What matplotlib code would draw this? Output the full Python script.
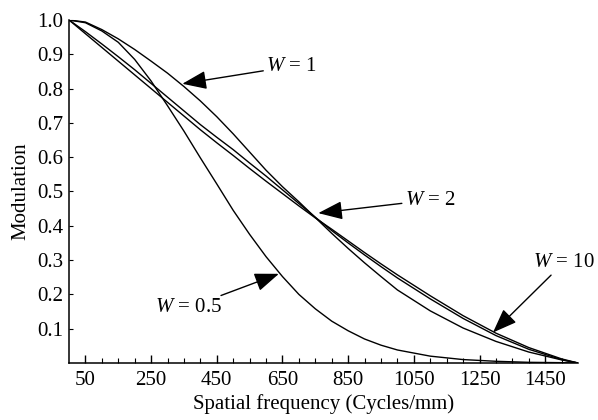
import numpy as np
import matplotlib
matplotlib.use('Agg')
import matplotlib.pyplot as plt
from matplotlib.ticker import FixedLocator

plt.rcParams['font.family'] = 'Liberation Serif'
plt.rcParams['mathtext.fontset'] = 'custom'
plt.rcParams['mathtext.rm'] = 'Liberation Serif'
plt.rcParams['mathtext.it'] = 'Liberation Serif:italic'
plt.rcParams['font.size'] = 15

#spatial frequency samples (cycles/mm)
freq = [0, 50, 100, 150, 200, 250, 300, 350, 400, 450, 500, 550, 600, 650, 700,
        750, 800, 850, 900, 950, 1000, 1100, 1200, 1300, 1400, 1500, 1550]

#modulation
mtf_w05 = [1.0, 0.992, 0.968, 0.935, 0.885, 0.822, 0.750, 0.676, 0.598, 0.522, 0.445,
           0.375, 0.310, 0.252, 0.200, 0.158, 0.122, 0.094, 0.070, 0.052, 0.038,
           0.020, 0.010, 0.005, 0.002, 0.001, 0.0]
mtf_w1 = [1.0, 0.994, 0.972, 0.945, 0.914, 0.880, 0.845, 0.806, 0.764, 0.718, 0.668,
          0.615, 0.562, 0.514, 0.470, 0.424, 0.378, 0.334, 0.292, 0.252, 0.213,
          0.152, 0.102, 0.063, 0.032, 0.009, 0.0]
mtf_w2 = [1.0, 0.966, 0.930, 0.893, 0.855, 0.815, 0.775, 0.735, 0.695, 0.658, 0.622,
          0.583, 0.545, 0.505, 0.465, 0.425, 0.386, 0.350, 0.315, 0.281, 0.248,
          0.187, 0.130, 0.080, 0.040, 0.010, 0.0]
mtf_w10 = [1.0, 0.960, 0.920, 0.880, 0.840, 0.800, 0.760, 0.720, 0.680, 0.642, 0.605,
           0.567, 0.530, 0.494, 0.458, 0.423, 0.390, 0.356, 0.322, 0.289, 0.257,
           0.196, 0.138, 0.087, 0.045, 0.012, 0.0]

labels = [r'$\mathit{W}$ = 1', r'$\mathit{W}$ = 2', r'$\mathit{W}$ = 10', r'$\mathit{W}$ = 0.5']

fig = plt.figure(figsize=(5.98, 4.2), dpi=100)
ax = fig.add_axes([0.1154, 0.1357, 0.8512, 0.8167])

for m in [mtf_w05, mtf_w1, mtf_w2, mtf_w10]:
    ax.plot(freq, m, color='black', lw=1.0)

ax.set_xlim(0, 1550)
ax.set_ylim(0, 1.0)
ax.spines['top'].set_visible(False)
ax.spines['right'].set_visible(False)
ax.spines['left'].set_linewidth(1.1)
ax.spines['bottom'].set_linewidth(1.1)

ax.xaxis.set_major_locator(FixedLocator(np.arange(50, 1500, 200)))
ax.xaxis.set_minor_locator(FixedLocator([f for f in range(50, 1550, 50) if (f - 50) % 200 != 0]))
ax.yaxis.set_major_locator(FixedLocator(np.arange(0.1, 1.01, 0.1)))
ax.set_yticklabels(['%.1f' % v for v in np.arange(0.1, 1.01, 0.1)])
ax.tick_params(axis='x', which='major', direction='in', length=6, width=1, pad=6)
ax.tick_params(axis='x', which='minor', direction='in', length=3.5, width=0.8)
ax.tick_params(axis='y', which='major', direction='in', length=3, width=0.8, pad=4)

ax.set_xlabel('Spatial frequency (Cycles/mm)', labelpad=3)
ax.set_ylabel('Modulation', labelpad=5)

arrow = dict(arrowstyle='-|>,head_length=1.0,head_width=0.38', color='black', lw=1.0,
             shrinkA=0, shrinkB=0)
ax.annotate(labels[0], xy=(345, 0.814), xytext=(600, 0.865), va='center', ha='left',
            arrowprops=arrow)
ax.annotate(labels[1], xy=(759, 0.437), xytext=(1022, 0.475), va='center', ha='left',
            arrowprops=arrow)
ax.annotate(labels[2], xy=(1291, 0.089), xytext=(1412, 0.292), va='center', ha='left',
            arrowprops=arrow, annotation_clip=False)
ax.annotate(labels[3], xy=(639, 0.260), xytext=(465, 0.161), va='center', ha='right',
            arrowprops=arrow)

fig.savefig('out.png', dpi=100)
